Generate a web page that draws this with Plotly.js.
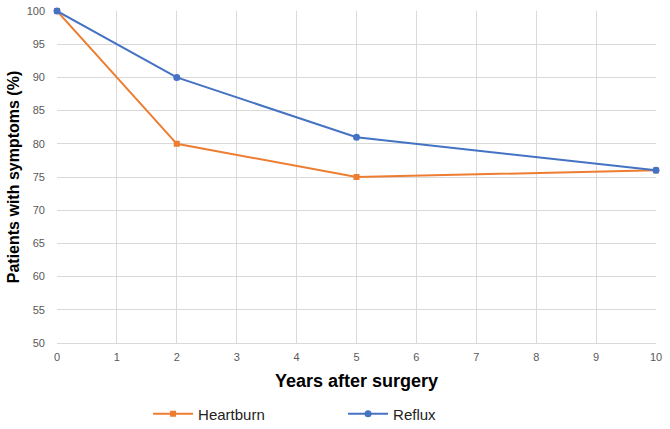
<!DOCTYPE html>
<html>
<head>
<meta charset="utf-8">
<script src="https://cdn.plot.ly/plotly-3.0.1.min.js"></script>
<style>html,body{margin:0;padding:0;background:#fff;}#chart{width:670px;height:429px;}</style>
</head>
<body>
<div id="chart"></div>
<script>
const years = [0, 2, 5, 10];
const heartburn = [100, 80, 75, 76];
const reflux = [100, 90, 81, 76];
const xTicks = [0,1,2,3,4,5,6,7,8,9,10];
const yTicks = [50,55,60,65,70,75,80,85,90,95,100];

const traces = [
  {x: years, y: heartburn, name: 'Heartburn', mode: 'lines+markers', type: 'scatter',
   line: {color: '#ED7D31', width: 2}, marker: {symbol: 'square', size: 6, color: '#ED7D31'}, cliponaxis: false},
  {x: years, y: reflux, name: 'Reflux', mode: 'lines+markers', type: 'scatter',
   line: {color: '#4472C4', width: 2}, marker: {symbol: 'circle', size: 7, color: '#4472C4'}, cliponaxis: false}
];

const layout = {
  width: 670, height: 429,
  margin: {l: 57, r: 14, t: 11, b: 86, autoexpand: false},
  paper_bgcolor: '#fff', plot_bgcolor: '#fff',
  font: {family: 'Liberation Sans, Arial, sans-serif', color: '#595959'},
  xaxis: {
    range: [0, 10], tickvals: xTicks, ticktext: xTicks.map(String),
    showgrid: true, gridcolor: '#d9d9d9', gridwidth: 1,
    zeroline: false, showline: true, linecolor: '#d9d9d9', linewidth: 1,
    ticks: '', tickfont: {size: 11, color: '#595959'}, ticklabelstandoff: 4,
    title: {text: 'Years after surgery', font: {size: 18, color: '#000', family: 'Liberation Sans, Arial, sans-serif', weight: 'bold'}, standoff: 12}
  },
  yaxis: {
    range: [50, 100], tickvals: yTicks, ticktext: yTicks.map(String),
    showgrid: true, gridcolor: '#d9d9d9', gridwidth: 1,
    zeroline: false, showline: false,
    ticks: '', tickfont: {size: 11, color: '#595959'}, ticklabelstandoff: 11,
    title: {text: 'Patients with symptoms (%)', font: {size: 16, color: '#000', family: 'Liberation Sans, Arial, sans-serif', weight: 'bold'}, standoff: 3}
  },
  showlegend: true,
  legend: {
    orientation: 'h', xref: 'paper', yref: 'paper',
    x: 0.152, y: -0.214, xanchor: 'left', yanchor: 'middle',
    font: {size: 15, color: '#222', family: 'Liberation Sans, Arial, sans-serif'},
    itemwidth: 40,
    entrywidth: 140, entrywidthmode: 'pixels'
  }
};

Plotly.newPlot('chart', traces, layout, {displayModeBar: false, staticPlot: true});
</script>
</body>
</html>
